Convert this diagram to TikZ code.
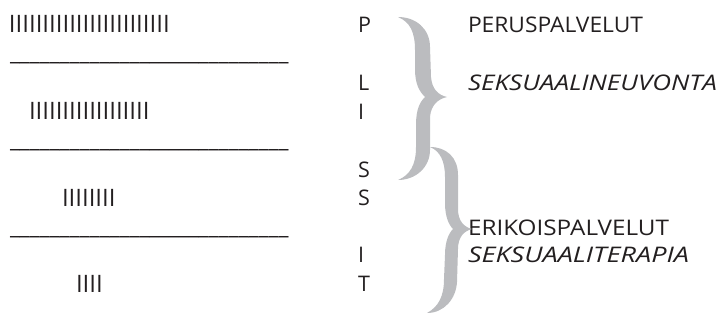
\documentclass[tikz,border=0pt]{standalone}
\usepackage{graphicx}
\usepackage{fontspec}
\setmainfont{Open Sans}
\definecolor{bracegray}{HTML}{BBBCBF}
\definecolor{ink}{HTML}{231F20}
\newcommand{\fitw}[2]{\resizebox{#1}{\height}{#2}}
\tikzset{
  txt/.style={inner sep=0pt, outer sep=0pt, text=ink, anchor=base west, font=\fontsize{21.5}{26}\selectfont},
  itxt/.style={txt, font=\fontsize{21.5}{26}\selectfont\itshape},
  bars/.style={txt, font=\fontsize{24}{26}\selectfont},
  rule/.style={txt, font=\fontsize{22.2}{26}\selectfont},
  bracefill/.style={fill=bracegray, draw=none}
}
\begin{document}
\begin{tikzpicture}[x=1pt,y=-1pt]
\useasboundingbox (0,0) rectangle (725,321);
% bars of I
\node[bars] (r1) at (9,33) {IIIIIIIIIIIIIIIIIIIIIIII};
\node[bars] (r2) at (29,119) {IIIIIIIIIIIIIIIIII};
\node[bars] (r3) at (62,206) {IIIIIIII};
\node[bars] (r4) at (76,292) {IIII};
% underscore rules
\node[rule] (u1) at (10,60.5) {\_\_\_\_\_\_\_\_\_\_\_\_\_\_\_\_\_\_\_\_\_\_\_\_\_\_\_\_};
\node[rule] (u2) at (10,147.5) {\_\_\_\_\_\_\_\_\_\_\_\_\_\_\_\_\_\_\_\_\_\_\_\_\_\_\_\_};
\node[rule] (u3) at (10,234.5) {\_\_\_\_\_\_\_\_\_\_\_\_\_\_\_\_\_\_\_\_\_\_\_\_\_\_\_\_};
% letter column
\node[txt] (cP) at (358,33) {P};
\node[txt] (cL) at (358,90) {L};
\node[txt] (cI1) at (358,119) {I};
\node[txt] (cS1) at (358,177) {S};
\node[txt] (cS2) at (358,205) {S};
\node[txt] (cI2) at (358,262) {I};
\node[txt] (cT) at (358,291) {T};
% labels
\node[txt] (peru) at (468,33) {\fitw{175pt}{PERUSPALVELUT}};
\node[itxt] (sneu) at (468,90) {\fitw{249pt}{SEKSUAALINEUVONTA}};
\node[txt] (erik) at (468,235) {\fitw{201pt}{ERIKOISPALVELUT}};
\node[itxt] (ster) at (468,262) {\fitw{221pt}{SEKSUAALITERAPIA}};
% brace 1
\fill[bracefill, shift={(398,17)}]
  (0,0) .. controls (18,0) and (32,12) .. (32,30)
  -- (33,60) .. controls (34,72) and (40,78) .. (49,80)
  .. controls (40,82) and (33,88) .. (32,100)
  -- (32,133) .. controls (32,150) and (18,163) .. (0,163)
  .. controls (12,158) and (18,148) .. (18,130)
  -- (18,108) .. controls (18,92) and (22,85) .. (27,80)
  .. controls (22,75) and (17,68) .. (17,52)
  -- (17,33) .. controls (17,15) and (12,5) .. (0,0) -- cycle;
% brace 2
\fill[bracefill, shift={(430,147)}]
  (0,0) .. controls (16,0) and (28,10) .. (28,28)
  -- (28,62) .. controls (28,74) and (34,80) .. (42,82)
  .. controls (34,84) and (28,90) .. (28,102)
  -- (27,135) .. controls (26,152) and (14,166) .. (-3,166)
  .. controls (8,160) and (14,150) .. (14,132)
  -- (15,108) .. controls (15,94) and (19,86) .. (23,82)
  .. controls (19,78) and (15,70) .. (15,56)
  -- (15,30) .. controls (15,14) and (10,4) .. (0,0) -- cycle;
\end{tikzpicture}
\end{document}
